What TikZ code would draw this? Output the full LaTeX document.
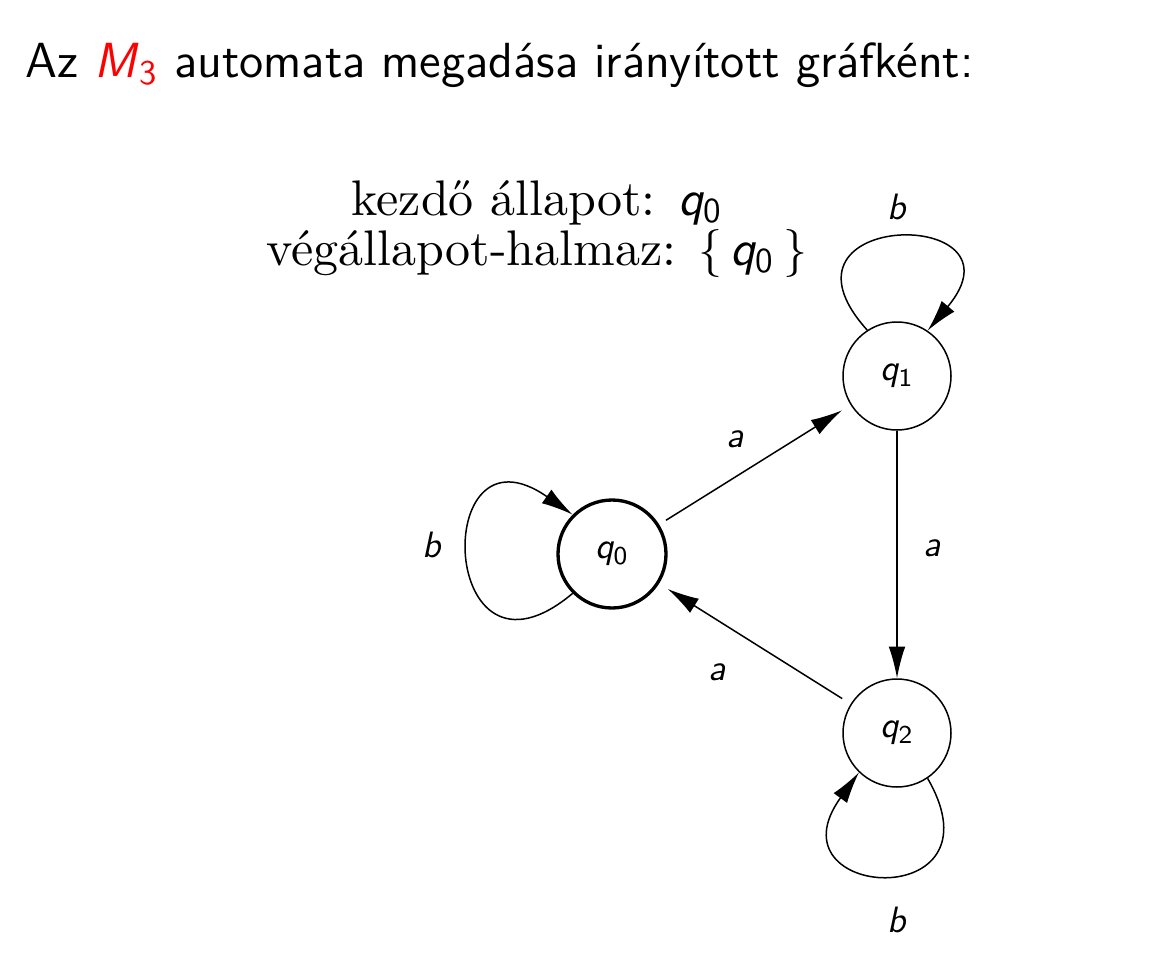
\documentclass[tikz,border=0pt]{standalone}
\usepackage{fontspec}
\newfontfamily\lmten{lmroman10-regular.otf}
\usetikzlibrary{arrows.meta}
\newcommand{\qst}[1]{{\sffamily\itshape q}\textsubscript{\sffamily #1}}
\newcommand{\lbl}[1]{{\sffamily\itshape #1}}
\begin{document}
\begin{tikzpicture}[x=0.3pt,y=0.3pt,
		state/.style={circle,draw,line width=0.45pt,minimum size=32.4pt,inner sep=0pt,font=\fontsize{11}{13}\selectfont},
		accept/.style={state,line width=1pt},
		trans/.style={line width=0.45pt,-{Latex[length=9.5pt,width=5pt]}},
		edgelabel/.style={font=\fontsize{11}{13}\selectfont},
		info/.style={anchor=base,inner sep=0pt,font=\fontsize{15}{18}\selectfont\lmten}]
			\useasboundingbox (0,0) rectangle (1154,-966);
			\node (title) at (25,-77) [anchor=base west,inner sep=0pt,font=\fontsize{14.8}{18}\selectfont\sffamily] {Az \textcolor{red}{\textit{M}\textsubscript{3}} automata megadása irányított gráfként:};
			\node (init) at (537,-215) [info] {kezdő állapot:\;\,\qst{0}};
			\node (final) at (537,-265) [info] {végállapot-halmaz: $\{$\,\qst{0}\,$\}$};
			\node (q0) at (612,-554) [accept] {\qst{0}};
			\node (q1) at (897,-376) [state] {\qst{1}};
			\node (q2) at (897,-733) [state] {\qst{2}};
			\draw[trans,shorten <=2.4pt,shorten >=3pt] (q0) -- (q1);
			\draw[trans] (q1) -- (q2);
			\draw[trans,shorten <=3pt,shorten >=3pt] (q2) -- (q0);
			\draw[trans] (q0.225) .. controls +(220:175) and +(145:175) .. (q0.135);
			\draw[trans] (q1.123) .. controls +(132:163) and +(50:163) .. (q1.56);
			\draw[trans] (q2.304) .. controls +(300:158) and +(234:158) .. (q2.226);
			\node (a01) at (735,-439) [edgelabel] {\lbl{a}};
			\node (a12) at (932,-548) [edgelabel] {\lbl{a}};
			\node (a20) at (717,-672) [edgelabel] {\lbl{a}};
			\node (b0) at (432,-545) [edgelabel] {\lbl{b}};
			\node (b1) at (897,-207) [edgelabel] {\lbl{b}};
			\node (b2) at (897,-920) [edgelabel] {\lbl{b}};
		\end{tikzpicture}
\end{document}
